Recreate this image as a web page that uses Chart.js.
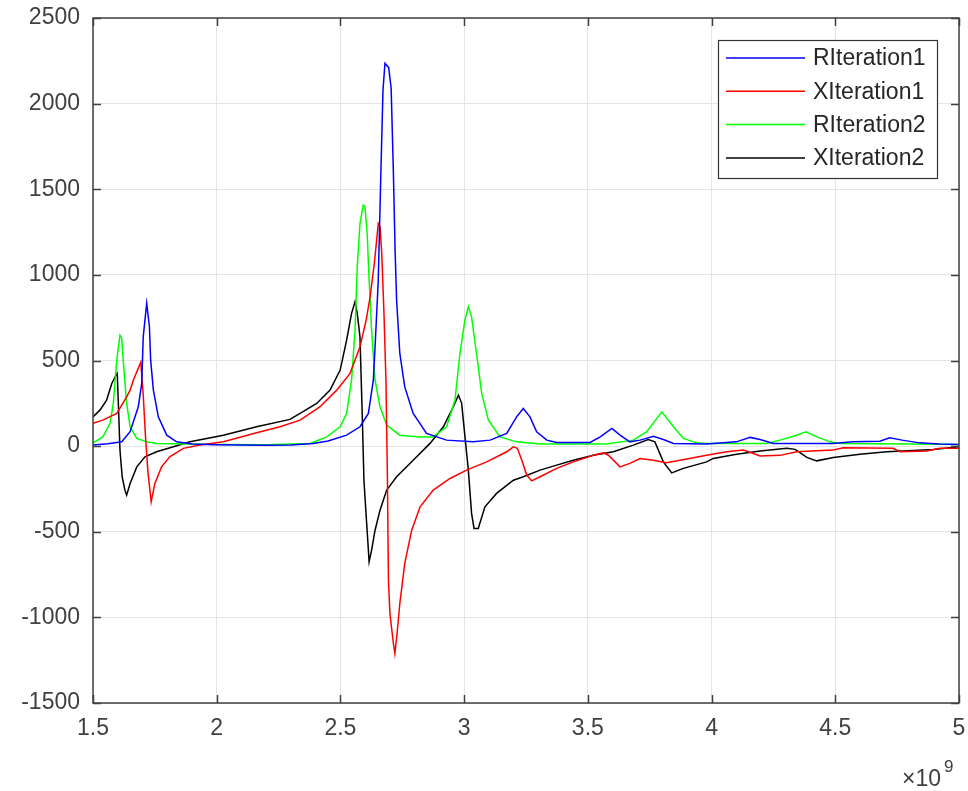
<!DOCTYPE html>
<html>
<head>
<meta charset="utf-8">
<script src="https://cdn.jsdelivr.net/npm/chart.js@4.4.1/dist/chart.umd.min.js"></script>
<style>
  html, body { margin: 0; padding: 0; background: #fff; }
  #wrap { width: 968px; height: 791px; }
</style>
</head>
<body>
<div id="wrap"><canvas id="chart" width="968" height="791"></canvas></div>
<script>
// frequency in units of 1e9 Hz
const xTicks = [1.5, 2, 2.5, 3, 3.5, 4, 4.5, 5];
const yTicks = [-1500, -1000, -500, 0, 500, 1000, 1500, 2000, 2500];
const seriesNames = ["RIteration1", "XIteration1", "RIteration2", "XIteration2"];
const seriesColors = ["#0000ff", "#ff0000", "#00ff00", "#000000"];

// RIteration1
const r1X = [1.50, 1.56, 1.616, 1.65, 1.683, 1.697, 1.703, 1.717, 1.728, 1.733, 1.744, 1.764, 1.798, 1.838, 1.90, 2.00, 2.10, 2.20, 2.30, 2.39, 2.45, 2.525, 2.579, 2.613, 2.633, 2.64, 2.653, 2.663, 2.672, 2.68, 2.695, 2.705, 2.714, 2.721, 2.727, 2.74, 2.76, 2.794, 2.848, 2.929, 3.037, 3.105, 3.172, 3.212, 3.239, 3.266, 3.293, 3.334, 3.374, 3.509, 3.55, 3.597, 3.63, 3.67, 3.711, 3.765, 3.805, 3.846, 3.98, 4.10, 4.156, 4.196, 4.25, 4.49, 4.57, 4.68, 4.72, 4.77, 4.84, 4.92, 5.00];
const r1Y = [6, 14, 25, 84, 230, 368, 638, 835, 697, 502, 327, 171, 64, 25, 12, 8, 6, 5, 6, 15, 30, 64, 113, 191, 385, 580, 970, 1570, 2080, 2235, 2210, 2090, 1600, 1140, 853, 541, 346, 191, 74, 35, 25, 35, 74, 171, 220, 171, 84, 35, 21, 21, 54, 103, 64, 25, 35, 58, 39, 16, 12, 25, 51, 39, 16, 16, 25, 29, 49, 35, 19, 12, 10];

// XIteration1
const x1X = [1.50, 1.54, 1.596, 1.636, 1.65, 1.663, 1.693, 1.703, 1.712, 1.722, 1.735, 1.75, 1.777, 1.81, 1.865, 1.932, 2.027, 2.161, 2.256, 2.337, 2.418, 2.485, 2.539, 2.579, 2.604, 2.62, 2.637, 2.653, 2.66, 2.667, 2.676, 2.684, 2.69, 2.694, 2.70, 2.714, 2.72, 2.729, 2.74, 2.76, 2.788, 2.822, 2.875, 2.943, 3.01, 3.091, 3.172, 3.199, 3.215, 3.233, 3.253, 3.273, 3.307, 3.374, 3.441, 3.522, 3.563, 3.583, 3.63, 3.67, 3.711, 3.765, 3.818, 3.873, 3.98, 4.061, 4.128, 4.169, 4.196, 4.277, 4.344, 4.425, 4.492, 4.532, 4.734, 4.761, 4.869, 4.923, 5.00];
const x1Y = [133, 152, 191, 288, 327, 385, 490, 300, 60, -150, -325, -218, -121, -62, -13, 6, 25, 78, 113, 152, 230, 327, 425, 580, 736, 872, 1067, 1300, 1281, 1125, 775, 385, -199, -783, -977, -1152, -1211, -1094, -919, -685, -491, -354, -257, -189, -140, -92, -33, -4, -13, -82, -169, -203, -179, -130, -92, -53, -39, -53, -121, -101, -72, -82, -97, -82, -53, -33, -23, -43, -58, -54, -33, -27, -23, -10, -13, -33, -29, -13, -13];

// RIteration2
const r2X = [1.50, 1.54, 1.569, 1.582, 1.596, 1.609, 1.616, 1.622, 1.636, 1.65, 1.677, 1.717, 1.757, 1.89, 2.00, 2.20, 2.377, 2.445, 2.499, 2.525, 2.545, 2.559, 2.568, 2.579, 2.592, 2.599, 2.608, 2.616, 2.626, 2.64, 2.66, 2.687, 2.74, 2.822, 2.875, 2.929, 2.963, 2.983, 3.003, 3.017, 3.03, 3.05, 3.071, 3.098, 3.145, 3.212, 3.307, 3.575, 3.684, 3.738, 3.799, 3.846, 3.886, 3.94, 3.98, 4.223, 4.277, 4.331, 4.382, 4.425, 4.479, 4.519, 4.80, 5.00];
const r2Y = [19, 54, 133, 249, 502, 648, 630, 502, 249, 113, 45, 25, 16, 12, 10, 8, 16, 54, 113, 191, 385, 677, 1047, 1300, 1407, 1398, 1242, 970, 677, 385, 230, 123, 64, 54, 54, 113, 269, 541, 736, 814, 755, 541, 308, 152, 54, 25, 12, 12, 35, 84, 200, 113, 45, 19, 16, 16, 35, 58, 84, 54, 25, 16, 12, 10];

// XIteration2
const x2X = [1.50, 1.528, 1.555, 1.576, 1.593, 1.598, 1.602, 1.609, 1.618, 1.629, 1.636, 1.65, 1.677, 1.71, 1.757, 1.825, 1.892, 2.027, 2.161, 2.296, 2.337, 2.404, 2.458, 2.499, 2.525, 2.545, 2.559, 2.568, 2.579, 2.588, 2.595, 2.606, 2.616, 2.626, 2.64, 2.66, 2.687, 2.727, 2.794, 2.862, 2.916, 2.956, 2.977, 2.99, 3.003, 3.017, 3.03, 3.04, 3.057, 3.084, 3.131, 3.199, 3.239, 3.307, 3.374, 3.441, 3.522, 3.603, 3.684, 3.744, 3.771, 3.805, 3.839, 3.886, 3.98, 4.007, 4.101, 4.196, 4.304, 4.338, 4.385, 4.425, 4.492, 4.60, 4.708, 4.897, 5.00];
const x2Y = [171, 210, 269, 366, 415, 425, 269, -23, -179, -257, -286, -218, -121, -62, -33, -4, 25, 64, 113, 156, 191, 249, 327, 444, 619, 775, 843, 775, 638, 191, -199, -451, -675, -607, -491, -374, -257, -179, -82, 16, 113, 230, 298, 250, 60, -140, -393, -481, -481, -354, -276, -199, -179, -140, -111, -82, -53, -33, 6, 39, 25, -92, -156, -130, -92, -72, -47, -29, -13, -19, -66, -86, -66, -47, -33, -19, -4];

const FONT = "'Liberation Sans', Arial, Helvetica, sans-serif";
const TEXT = "#404040";

document.addEventListener("DOMContentLoaded", () => {
    const toPoints = (xs, ys) => xs.map((x, i) => ({ x: x, y: ys[i] }));
    const allX = [r1X, x1X, r2X, x2X];
    const allY = [r1Y, x1Y, r2Y, x2Y];

    const datasets = seriesNames.map((name, i) => ({
        label: name,
        data: toPoints(allX[i], allY[i]),
        borderColor: seriesColors[i],
        backgroundColor: seriesColors[i],
        borderWidth: 1.5,
        pointRadius: 0,
        tension: 0,
        fill: false
    }));

    // box, inward ticks, legend and the x10^9 label, matlab style
    const matlabAxes = {
        id: "matlabAxes",
        afterDraw(chart) {
            const ctx = chart.ctx;
            const a = chart.chartArea;
            const sx = chart.scales.x, sy = chart.scales.y;
            ctx.save();
            ctx.strokeStyle = "#404040";
            ctx.lineWidth = 1.5;
            const tl = 8;
            ctx.beginPath();
            xTicks.forEach(v => {
                const px = Math.round(sx.getPixelForValue(v)) + 0.5;
                ctx.moveTo(px, a.bottom); ctx.lineTo(px, a.bottom - tl);
                ctx.moveTo(px, a.top); ctx.lineTo(px, a.top + tl);
            });
            yTicks.forEach(v => {
                const py = Math.round(sy.getPixelForValue(v)) + 0.5;
                ctx.moveTo(a.left, py); ctx.lineTo(a.left + tl, py);
                ctx.moveTo(a.right, py); ctx.lineTo(a.right - tl, py);
            });
            ctx.stroke();
            ctx.strokeRect(a.left, a.top, a.right - a.left, a.bottom - a.top);

            // legend
            const bx = a.right - 241, by = a.top + 22, bw = 219, bh = 138;
            ctx.fillStyle = "#fff";
            ctx.fillRect(bx, by, bw, bh);
            ctx.lineWidth = 1.2;
            ctx.strokeStyle = "#333";
            ctx.strokeRect(bx + 0.5, by + 0.5, bw, bh);
            ctx.font = "23px " + FONT;
            ctx.textBaseline = "middle";
            ctx.textAlign = "left";
            seriesNames.forEach((name, i) => {
                const ly = by + 18 + i * 33.3;
                ctx.strokeStyle = seriesColors[i];
                ctx.lineWidth = 1.5;
                ctx.beginPath();
                ctx.moveTo(bx + 8, ly); ctx.lineTo(bx + 87, ly);
                ctx.stroke();
                ctx.fillStyle = "#262626";
                ctx.fillText(name, bx + 95, ly + 1);
            });

            // x10^9
            ctx.fillStyle = TEXT;
            ctx.textBaseline = "alphabetic";
            ctx.textAlign = "right";
            ctx.font = "23px " + FONT;
            ctx.fillText("\u00d710", a.right - 18, 786);
            ctx.textAlign = "left";
            ctx.font = "17px " + FONT;
            ctx.fillText("9", a.right - 15, 772);
            ctx.restore();
        }
    };

    const plain = v => String(v);

    new Chart(document.getElementById("chart"), {
        type: "line",
        data: { datasets: datasets },
        options: {
            responsive: false,
            animation: false,
            layout: { padding: { top: 18, right: 9, left: 0, bottom: 0 } },
            plugins: {
                legend: { display: false },
                tooltip: { enabled: false }
            },
            scales: {
                x: {
                    type: "linear",
                    min: 1.5,
                    max: 5,
                    afterBuildTicks: s => { s.ticks = xTicks.map(v => ({ value: v })); },
                    afterFit: s => {
                        s.height = 88;
                        s.paddingLeft = 0; s.paddingRight = 0;
                    },
                    grid: { color: "#e4e4e4", drawTicks: false },
                    border: { display: false },
                    ticks: {
                        padding: 12,
                        maxRotation: 0,
                        autoSkip: false,
                        color: TEXT,
                        font: { size: 23, family: FONT },
                        callback: plain
                    }
                },
                y: {
                    type: "linear",
                    min: -1500,
                    max: 2500,
                    afterBuildTicks: s => { s.ticks = yTicks.map(v => ({ value: v })); },
                    afterFit: s => {
                        s.width = 93;
                        s.paddingTop = 0; s.paddingBottom = 0;
                    },
                    grid: { color: "#e4e4e4", drawTicks: false },
                    border: { display: false },
                    ticks: {
                        padding: 13,
                        autoSkip: false,
                        color: TEXT,
                        font: { size: 23, family: FONT },
                        callback: plain
                    }
                }
            }
        },
        plugins: [matlabAxes]
    });
});
</script>
</body>
</html>
